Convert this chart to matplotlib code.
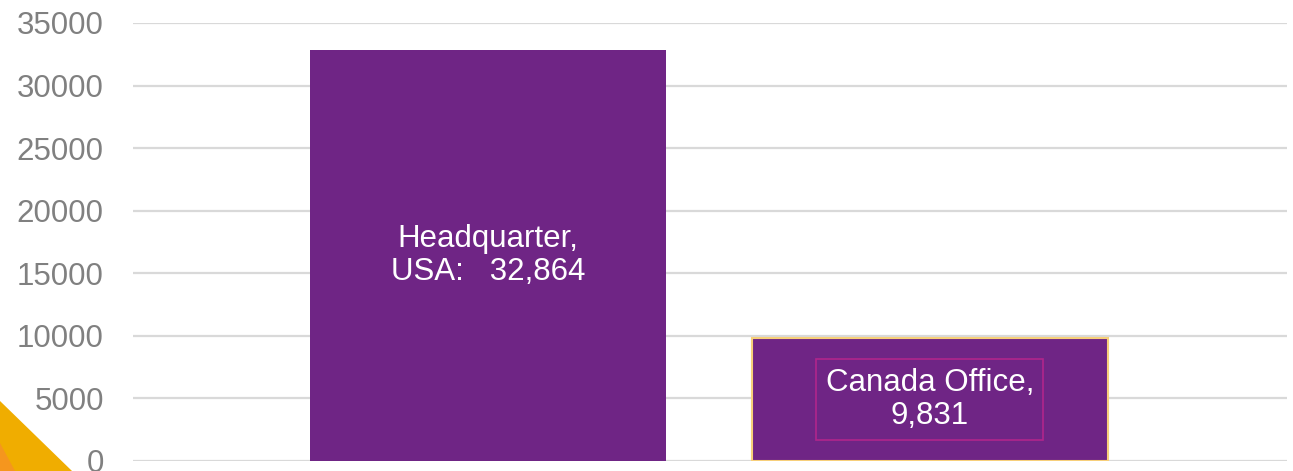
import matplotlib
matplotlib.use("Agg")
import matplotlib.pyplot as plt
from matplotlib.patches import Polygon

plt.rcParams['font.family'] = ['Liberation Sans', 'DejaVu Sans']

offices = ["Headquarter,\nUSA:   ", "Canada Office,\n"]
employees = [32864, 9831]
y_ticks = [0, 5000, 10000, 15000, 20000, 25000, 30000, 35000]

bar_color = '#6F2585'

fig = plt.figure(figsize=(12.93, 4.71), dpi=100)
ax = fig.add_axes([133 / 1293, 10 / 471, 1154 / 1293, 438 / 471])

x = list(range(len(offices)))
bars = ax.bar(x, employees, width=0.805, color=bar_color, zorder=3)
# second bar has the thin golden outline
bars[1].set_edgecolor('#F7CF7A')
bars[1].set_linewidth(1.5)

for i, (name, val) in enumerate(zip(offices, employees)):
    txt = name + f"{val:,}"
    kw = dict(ha='center', va='center', color='white', fontsize=22.5,
              linespacing=1.12, zorder=4)
    if i == 1:
        kw['bbox'] = dict(boxstyle='square,pad=0.3', fc='none', ec='#B0268C', lw=1.2)
    ax.text(x[i], val / 2, txt, **kw)

ax.set_xlim(-0.803, 1.808)
ax.set_ylim(0, 35000)
ax.set_yticks(y_ticks)
ax.set_yticklabels([str(t) for t in y_ticks])
ax.tick_params(axis='y', length=0, pad=21, labelsize=22.5, labelcolor='#808080')
ax.set_xticks([])
for s in ax.spines.values():
    s.set_visible(False)
ax.grid(axis='y', color='#D9D9D9', linewidth=1.6, zorder=0)
ax.set_axisbelow(True)

# decorative corner triangles (slide background)
fig.patches.append(Polygon([[0, 0], [0, 70 / 471], [72 / 1293, 0]], closed=True,
                           transform=fig.transFigure, fc='#F0AD00', ec='none', zorder=-1))
fig.patches.append(Polygon([[0, 0], [0, 28 / 471], [15 / 1293, 0]], closed=True,
                           transform=fig.transFigure, fc='#F5961E', ec='none', zorder=-1))

fig.savefig('out.png', dpi=100)
